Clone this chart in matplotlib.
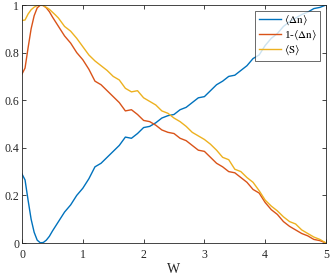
import numpy as np
import matplotlib
matplotlib.use("Agg")
import matplotlib.pyplot as plt

plt.rcParams['font.family'] = ['Liberation Serif', 'DejaVu Serif']
plt.rcParams['mathtext.fontset'] = 'stix'

W = [0.0, 0.05, 0.1, 0.15, 0.2, 0.25, 0.3, 0.35, 0.4, 0.45, 0.5, 0.55, 0.6,
     0.7, 0.8, 0.9,
     1.0, 1.1, 1.2, 1.3, 1.4, 1.5, 1.6, 1.7, 1.8, 1.9,
     2.0, 2.1, 2.2, 2.3, 2.4, 2.5, 2.6, 2.7, 2.8, 2.9,
     3.0, 3.1, 3.2, 3.3, 3.4, 3.5, 3.6, 3.7, 3.8, 3.9,
     4.0, 4.1, 4.2, 4.3, 4.4, 4.5, 4.6, 4.7, 4.8, 4.9, 5.0]

delta_n = [0.29, 0.265, 0.18, 0.10, 0.045, 0.012, 0.001, 0.002, 0.012, 0.028, 0.05, 0.07, 0.09,
           0.13, 0.16, 0.20,
           0.23, 0.27, 0.32, 0.335, 0.36, 0.385, 0.41, 0.445, 0.44, 0.46,
           0.485, 0.49, 0.505, 0.525, 0.535, 0.54, 0.56, 0.57, 0.59, 0.61,
           0.615, 0.64, 0.665, 0.68, 0.70, 0.705, 0.725, 0.745, 0.775, 0.79,
           0.83, 0.86, 0.88, 0.91, 0.93, 0.945, 0.96, 0.97, 0.985, 0.99, 1.0]

S = [0.935, 0.937, 0.962, 0.98, 0.991, 0.998, 1.0, 0.998, 0.99, 0.982, 0.97, 0.958, 0.945,
     0.91, 0.89, 0.86,
     0.825, 0.79, 0.765, 0.745, 0.725, 0.70, 0.685, 0.65, 0.635, 0.64,
     0.61, 0.595, 0.58, 0.555, 0.545, 0.525, 0.51, 0.49, 0.465, 0.45,
     0.435, 0.415, 0.39, 0.36, 0.35, 0.31, 0.30, 0.275, 0.255, 0.22,
     0.18, 0.155, 0.135, 0.11, 0.09, 0.08, 0.055, 0.04, 0.025, 0.015, 0.0]

one_minus = [1 - v for v in delta_n]

labels = [r'$\langle\Delta\mathrm{n}\rangle$', r'1-$\langle\Delta\mathrm{n}\rangle$', r'$\langle\mathrm{S}\rangle$']
colors = ['#0072BD', '#D95319', '#EDB120']

fig = plt.figure(figsize=(3.32, 2.78), dpi=100)
ax = fig.add_axes([22/332, 35/278, 304/332, 238/278])
ax.plot(W, delta_n, color=colors[0], lw=1.0, label=labels[0])
ax.plot(W, one_minus, color=colors[1], lw=1.0, label=labels[1])
ax.plot(W, S, color=colors[2], lw=1.0, label=labels[2])

ax.set_xlim(0, 5)
ax.set_ylim(0, 1)
ax.set_xticks([0, 1, 2, 3, 4, 5])
ax.set_yticks([0, 0.2, 0.4, 0.6, 0.8, 1])
ax.set_yticklabels(['0', '0.2', '0.4', '0.6', '0.8', '1'])
ax.tick_params(direction='in', top=True, right=True, labelsize=8.5, length=3,
               width=0.6, colors='#262626')
ax.tick_params(axis='x', pad=4)
ax.tick_params(axis='y', pad=2)
for s in ax.spines.values():
    s.set_color('#262626')
    s.set_linewidth(0.6)
ax.set_xlabel('W', fontsize=10, labelpad=2, color='#262626')

leg = ax.legend(loc='upper right', fontsize=8, frameon=True, fancybox=False,
                edgecolor='#262626', handlelength=2.0, handletextpad=0.3,
                borderpad=0.3, labelspacing=0.15, borderaxespad=0.5)
leg.get_frame().set_linewidth(0.6)

fig.savefig('out.png', dpi=100)
